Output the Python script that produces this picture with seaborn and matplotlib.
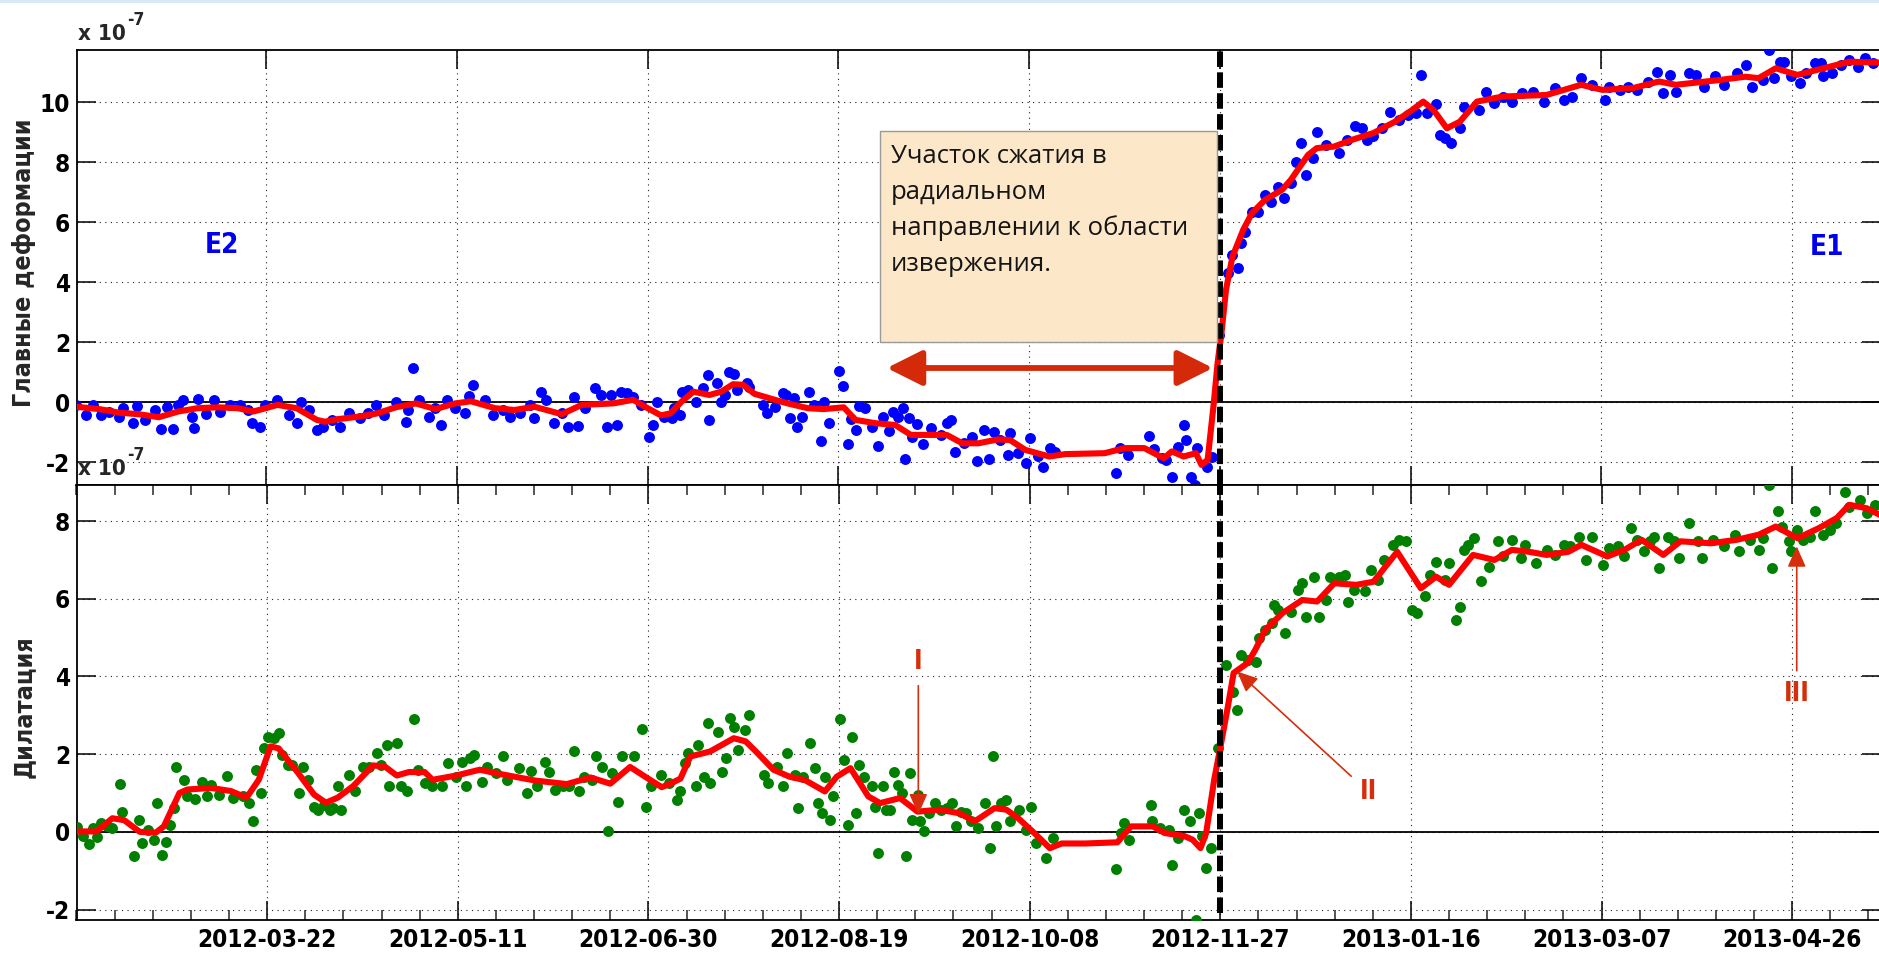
import numpy as np
import pandas as pd
import matplotlib
matplotlib.use("Agg")
import matplotlib.pyplot as plt
import matplotlib.dates as mdates
from matplotlib.patches import FancyArrowPatch, Rectangle
import seaborn as sns

# ---------------------------------------------------------------------------
# Data: days counted from START, values in units of 1e-7
# ---------------------------------------------------------------------------
START = pd.Timestamp("2012-02-01")
ERUPTION = "2012-11-27"
TICK_DATES = ["2012-03-22", "2012-05-11", "2012-06-30", "2012-08-19", "2012-10-08",
              "2012-11-27", "2013-01-16", "2013-03-07", "2013-04-26"]

# principal strain E (blue dots)
E_DAYS = [
    0.1, 2.7, 4.7, 6.8, 8.9, 11.5, 12.5, 15.1, 16.1, 18.2,
    20.8, 22.4, 23.9, 25.5, 27.0, 28.1, 30.6, 31.2, 32.2, 34.3,
    36.3, 37.9, 40.5, 43.1, 45.2, 46.2, 48.3, 49.8, 52.9, 56.0,
    58.1, 59.1, 61.2, 63.3, 64.8, 67.4, 69.5, 71.6, 74.7, 76.8,
    78.8, 80.9, 84.0, 86.6, 87.1, 88.5, 90.2, 92.8, 94.4, 95.9,
    97.5, 99.6, 102.1, 103.2, 104.2, 107.3, 109.4, 112.0, 114.0, 116.6,
    119.2, 120.3, 122.1, 123.4, 125.4, 127.5, 129.1, 130.6, 131.7, 133.7,
    136.3, 137.9, 139.4, 140.5, 142.0, 143.1, 144.6, 146.2, 148.2, 150.3,
    151.3, 152.4, 154.4, 157.0,
    156.3, 158.4, 158.9, 160.5, 162.6, 164.6, 165.7, 166.2, 168.3, 169.3,
    170.3, 171.4, 172.6, 173.4, 176.0, 176.5, 180.2, 181.2, 183.3, 185.4,
    186.4, 187.4, 188.5, 189.2, 190.5, 192.3, 193.6, 195.5, 196.2, 197.5,
    200.2, 201.2, 202.4, 203.3, 204.5, 205.3, 207.1, 208.7, 210.3, 211.8,
    213.3, 214.4, 215.7, 217.0, 217.5, 218.5, 219.2, 220.6, 222.1, 224.2,
    226.8, 228.4, 229.6, 230.6, 233.0, 235.1, 236.4, 238.2, 239.5, 240.8,
    242.3, 244.4, 244.9, 247.0, 249.1, 250.3, 252.2, 253.7, 255.5, 256.8,
    272.7, 273.9, 276.0, 281.5, 282.7, 284.8, 285.8, 287.4, 289.0, 290.5,
    291.0, 292.4, 293.6, 294.1, 296.7, 298.0,
    299.9, 302.1, 303.3, 304.7, 305.5, 306.7, 308.4, 310.1, 311.8, 313.5,
    315.2, 316.9, 318.6, 320.0, 321.4, 322.6, 324.5, 325.4, 327.7, 331.1,
    333.3, 335.4, 337.3, 338.5, 340.2, 342.4, 344.7, 347.0, 349.2, 351.5,
    352.6, 354.3, 356.6, 357.7, 358.9, 360.6, 362.9, 364.0, 368.0, 369.7,
    371.9, 374.2, 376.5, 379.3, 382.2, 385.0, 387.8, 390.1, 392.4, 394.6,
    397.5, 400.9, 402.0, 404.9, 407.1, 409.4, 412.2, 414.5, 416.2, 417.9,
    419.6, 423.0, 424.7, 427.0, 429.8, 432.1, 435.5, 437.8, 439.5, 442.3,
    444.0, 445.2, 446.9, 448.0, 449.7, 452.0, 453.7, 455.9, 457.6, 458.2,
    460.5, 462.7, 465.0, 467.3, 469.0, 471.3,
]
E_VALS = [
    -0.09, -0.42, -0.09, -0.42, -0.31, -0.48, -0.20, -0.70, -0.12, -0.59,
    -0.26, -0.90, -0.17, -0.90, -0.09, 0.08, -0.48, -0.87, 0.11, -0.39,
    0.08, -0.31, -0.09, -0.09, -0.26, -0.70, -0.81, -0.09, 0.08, -0.42,
    -0.70, 0.02, -0.26, -0.92, -0.81, -0.59, -0.81, -0.37, -0.53, -0.37,
    -0.09, -0.42, 0.02, -0.65, -0.26, 1.13, 0.08, -0.48, -0.20, -0.76,
    0.08, -0.20, -0.35, 0.21, 0.58, 0.08, -0.42, -0.26, -0.48, -0.37,
    -0.09, -0.53, 0.35, 0.08, -0.70, -0.37, -0.81, 0.19, -0.79, -0.20,
    0.47, 0.24, -0.81, 0.24, -0.76, 0.35, 0.30, 0.19, -0.09, -1.15,
    -0.76, 0.02, -0.48, -0.20,
    -0.53, -0.42, 0.35, 0.41, 0.02, 0.47, 0.91, -0.59, 0.63, 0.02,
    0.24, 1.02, 0.93, 0.41, 0.63, 0.52, -0.09, -0.37, -0.15, 0.30,
    0.24, -0.53, 0.13, -0.83, -0.48, 0.35, -0.09, -1.28, 0.00, -0.70,
    1.05, 0.54, -1.39, -0.57, -0.92, -0.11, -0.20, -0.81, -1.46, -0.50,
    -0.95, -0.31, -0.48, -0.20, -1.90, -0.53, -1.15, -0.72, -1.39, -0.87,
    -1.09, -0.70, -0.59, -1.65, -1.37, -1.15, -1.95, -0.92, -1.90, -0.98,
    -1.26, -1.76, -1.04, -1.70, -2.03, -1.20, -1.79, -2.15, -1.53, -1.65,
    -2.37, -1.53, -1.76, -1.11, -1.57, -1.87, -1.92, -2.48, -1.48, -0.76,
    -1.26, -2.48, -2.76, -1.53, -2.15, -1.83,
    2.24, 4.30, 4.91, 4.47, 5.30, 5.69, 6.35, 6.35, 6.91, 6.69,
    7.19, 6.80, 7.30, 8.02, 8.63, 7.58, 8.13, 9.02, 8.58, 8.30,
    8.74, 9.21, 9.13, 8.74, 8.86, 9.13, 9.69, 9.41, 9.58, 9.63,
    10.91, 9.63, 9.94, 8.91, 8.80, 8.63, 9.13, 9.85, 9.74, 10.35,
    9.97, 10.19, 10.02, 10.30, 10.35, 10.02, 10.47, 10.08, 10.19, 10.80,
    10.58, 10.08, 10.52, 10.41, 10.52, 10.41, 10.69, 11.02, 10.30, 10.91,
    10.35, 10.97, 10.91, 10.52, 10.86, 10.58, 10.97, 11.24, 10.52, 10.74,
    11.74, 10.80, 11.35, 11.35, 10.86, 10.63, 10.97, 11.30, 11.30, 10.86,
    10.97, 11.24, 11.41, 11.19, 11.47, 11.30,
]

# smoothed principal strain (red curve)
E_SMOOTH_DAYS = [
    0.0, 6.3, 11.5, 16.6, 21.9, 27.0, 32.0, 37.3, 42.6, 46.7,
    53.0, 58.0, 63.3, 65.4, 68.5, 73.7, 78.9, 84.0, 89.2, 94.4,
    99.6, 103.7, 110.0, 115.1, 120.3, 127.5, 132.7, 141.0, 146.2, 149.3,
    153.5, 156.0, 159.0, 162.0, 166.2, 169.3, 172.4, 175.0, 178.0, 182.8,
    187.0, 192.0, 196.2, 201.4, 204.5, 209.7, 214.9, 219.0, 223.2, 228.4,
    232.5, 236.7, 241.8, 245.0, 249.0, 255.3, 259.5, 269.8, 275.0, 280.2,
    285.3, 287.4, 290.5, 293.7, 295.2, 296.8, 298.4, 299.4, 300.5, 301.6,
    303.3, 306.1, 308.4, 311.8, 316.3, 318.6, 323.1, 325.4, 329.9, 334.5,
    340.2, 345.9, 350.4, 353.3, 356.0, 359.5, 362.9, 367.4, 374.2, 385.6,
    394.7, 400.3, 408.3, 415.1, 419.5, 431.0, 437.8, 441.2, 445.7, 451.4,
    458.2, 465.0, 473.0,
]
E_SMOOTH_VALS = [
    -0.15, -0.23, -0.35, -0.40, -0.50, -0.31, -0.20, -0.17, -0.20, -0.31,
    -0.09, -0.20, -0.59, -0.65, -0.57, -0.49, -0.38, -0.17, -0.04, -0.23,
    -0.04, 0.03, -0.20, -0.26, -0.15, -0.40, -0.09, -0.04, 0.08, -0.15,
    -0.44, -0.37, 0.03, 0.35, 0.24, 0.35, 0.60, 0.58, 0.28, 0.10,
    -0.05, -0.20, -0.23, -0.17, -0.59, -0.70, -0.76, -1.09, -1.09, -1.09,
    -1.37, -1.37, -1.24, -1.26, -1.59, -1.81, -1.73, -1.70, -1.53, -1.53,
    -1.87, -1.64, -1.81, -1.70, -2.09, -1.92, -0.04, 1.30, 2.40, 3.74,
    4.85, 5.74, 6.30, 6.74, 7.08, 7.41, 8.24, 8.47, 8.52, 8.74,
    8.97, 9.35, 9.74, 10.02, 9.74, 9.13, 9.35, 10.02, 10.19, 10.24,
    10.58, 10.41, 10.47, 10.69, 10.58, 10.74, 10.85, 10.80, 11.13, 10.91,
    11.13, 11.35, 11.32,
]

# dilatation D (green dots)
D_DAYS = [
    0.1, 1.6, 3.2, 4.2, 5.3, 6.3, 7.9, 9.4, 11.3, 12.0,
    15.1, 16.4, 17.2, 18.7, 20.3, 21.0, 22.4, 23.4, 24.4, 25.5,
    26.2, 28.1, 29.1, 31.2, 33.0, 34.3, 35.3, 37.4, 39.4, 41.0,
    43.6, 45.2, 46.4, 47.2, 48.5, 49.3, 50.3, 51.9, 53.1, 54.0,
    55.5, 56.5, 58.4, 59.3, 60.7, 62.2, 63.3, 64.8, 66.4, 67.4,
    68.5, 69.5, 71.6, 73.1, 75.2, 76.8, 78.8, 79.9, 81.4, 82.0,
    84.0, 85.0, 86.6, 88.5, 89.7, 91.3, 93.3, 95.9, 97.5, 99.6,
    101.1, 102.1, 103.2, 104.2, 106.3, 107.8, 109.9, 111.9, 113.0, 116.1,
    118.2, 119.2, 120.8, 122.8, 123.9, 125.4, 127.5, 129.1, 130.6, 131.7,
    133.2, 135.3, 136.3, 137.9, 139.4, 140.5, 142.0, 143.1, 146.2, 148.2,
    149.3, 150.8, 153.4, 155.5,
    157.4, 158.4, 159.5, 160.5, 162.6, 163.1, 164.6, 165.7, 166.2, 168.3,
    169.3, 170.3, 171.4, 172.4, 173.4, 175.3, 176.5, 180.2, 181.5, 183.8,
    185.4, 186.4, 188.5, 189.3, 190.5, 192.3, 193.6, 194.4, 195.5, 196.2,
    197.6, 198.3, 200.2, 201.4, 202.4, 203.3, 204.5, 205.3, 206.6, 208.7,
    209.5, 210.2, 211.6, 212.3, 213.4, 214.4, 215.4, 216.4, 217.5, 218.5,
    219.2, 220.6, 221.3, 222.4, 223.7, 225.2, 226.8, 228.4, 229.6, 230.6,
    232.0, 233.3, 234.6, 236.4, 238.2, 239.5, 240.4, 241.3, 242.6, 243.7,
    244.9, 247.3, 249.1, 250.3, 251.7, 254.3, 256.1, 272.7, 273.9, 274.8,
    276.0, 281.7, 282.2, 284.3, 286.6, 287.4, 289.0, 290.5, 292.1, 293.6,
    294.4, 295.2, 296.3, 297.6, 299.3,
    301.6, 303.3, 304.4, 305.5, 307.2, 309.5, 310.1, 311.8, 313.5, 314.1,
    315.2, 316.9, 318.6, 320.3, 321.4, 322.6, 324.5, 326.0, 327.7, 328.8,
    331.1, 332.8, 333.4, 335.1, 337.9, 339.6, 341.3, 343.0, 345.3, 347.0,
    348.7, 350.4, 351.5, 353.8, 354.9, 356.6, 358.9, 360.0, 361.7, 362.9,
    364.0, 365.1, 366.5, 368.5, 370.6, 372.8, 374.2, 376.5, 378.8, 379.9,
    382.7, 385.6, 387.8, 390.1, 391.8, 394.1, 395.8, 397.5, 400.3, 402.0,
    404.3, 406.0, 407.7, 409.4, 411.1, 412.8, 413.7, 415.1, 417.4, 419.1,
    420.2, 423.0, 425.3, 426.4, 429.3, 432.1, 435.0, 436.1, 439.0, 441.2,
    442.3, 444.0, 444.8, 446.3, 447.4, 449.1, 449.7, 451.2, 452.8, 454.8,
    456.0, 458.2, 459.9, 461.6, 463.9, 465.0, 467.8, 469.5, 471.8,
]
D_VALS = [
    0.12, -0.12, -0.31, 0.09, -0.14, 0.22, 0.14, 0.09, 1.23, 0.51,
    -0.62, 0.31, -0.29, 0.05, -0.21, 0.74, -0.59, -0.25, 0.18, 0.61,
    1.68, 1.34, 0.91, 0.84, 1.29, 0.91, 1.21, 0.95, 1.44, 0.86,
    0.91, 0.74, 0.27, 1.58, 1.00, 2.15, 2.45, 2.41, 2.54, 1.98,
    1.72, 1.72, 1.00, 1.68, 1.34, 0.65, 0.57, 0.69, 0.57, 0.61,
    1.17, 0.57, 1.47, 1.04, 1.68, 1.68, 2.03, 1.72, 2.24, 1.17,
    2.28, 1.17, 1.04, 2.90, 1.60, 1.25, 1.17, 1.17, 1.77, 1.42,
    1.81, 1.17, 1.90, 1.98, 1.29, 1.68, 1.51, 1.94, 1.34, 1.64,
    0.99, 1.57, 1.17, 1.81, 1.55, 1.08, 1.17, 1.17, 2.07, 1.04,
    1.42, 1.34, 1.94, 1.68, 0.03, 1.51, 0.76, 1.94, 1.94, 2.64,
    0.65, 1.17, 1.47, 1.25,
    0.82, 1.04, 1.77, 2.03, 1.17, 2.24, 1.42, 2.80, 1.25, 2.58,
    1.55, 1.90, 2.93, 2.71, 2.11, 2.62, 3.01, 1.47, 1.25, 1.68,
    1.17, 2.03, 1.47, 0.61, 1.42, 2.28, 1.64, 0.74, 0.48, 1.42,
    0.31, 0.91, 2.91, 1.85, 0.18, 2.45, 0.48, 1.72, 1.42, 1.17,
    0.65, -0.55, 1.17, 0.57, 0.57, 1.55, 1.21, 0.99, -0.62, 1.51,
    0.31, 0.95, 0.27, 0.01, 0.48, 0.74, 0.57, 0.61, 0.74, 0.14,
    0.52, 0.48, 0.27, 0.09, 0.74, -0.42, 1.96, 0.14, 0.74, 0.81,
    0.27, 0.57, 0.05, 0.65, -0.29, -0.68, -0.16, -0.96, -0.04, 0.22,
    -0.21, 0.69, 0.27, 0.09, 0.05, -0.85, -0.16, 0.57, 0.27, -2.27,
    0.48, -0.12, -0.94, -0.42, 2.15,
    4.30, 3.61, 3.14, 4.56, 4.43, 4.38, 4.99, 5.20, 5.37, 5.84,
    5.72, 5.11, 5.67, 6.23, 6.40, 5.54, 6.57, 5.54, 5.97, 6.57,
    6.57, 6.62, 5.93, 6.23, 6.19, 6.75, 6.49, 7.00, 7.39, 7.52,
    7.48, 5.72, 5.63, 6.06, 6.62, 6.96, 6.49, 6.92, 5.46, 5.80,
    7.26, 7.39, 7.56, 6.45, 6.83, 7.48, 7.09, 7.52, 7.05, 7.39,
    6.92, 7.26, 7.13, 7.39, 7.35, 7.60, 7.00, 7.60, 6.87, 7.30,
    7.35, 7.09, 7.82, 7.52, 7.22, 7.48, 7.60, 6.79, 7.60, 7.48,
    7.05, 7.95, 7.48, 7.05, 7.52, 7.35, 7.65, 7.22, 7.52, 7.26,
    7.56, 8.93, 6.79, 8.25, 7.86, 7.48, 7.22, 7.78, 7.52, 7.60,
    8.25, 7.65, 7.78, 7.95, 8.76, 8.37, 8.55, 8.21, 8.42,
]

# smoothed dilatation (red curve)
D_SMOOTH_DAYS = [
    0.0, 5.3, 9.4, 12.5, 16.6, 20.8, 22.9, 27.0, 29.1, 35.3,
    40.5, 44.6, 47.8, 50.9, 53.0, 58.1, 62.3, 65.4, 68.5, 72.6,
    77.8, 80.9, 84.0, 87.2, 91.3, 93.4, 99.6, 105.8, 110.0, 120.3,
    128.6, 134.8, 140.0, 145.2, 149.3, 153.5, 156.0, 158.4, 161.0, 166.2,
    172.4, 175.5, 178.2, 182.8, 187.0, 191.1, 196.3, 199.4, 203.0, 207.7,
    210.8, 216.0, 220.6, 226.3, 231.5, 235.6, 240.8, 243.9, 247.0, 251.2,
    255.3, 258.4, 264.6, 273.0, 276.6, 282.3, 285.4, 290.6, 292.7, 294.8,
    296.3, 298.4, 299.9, 302.0, 303.5, 307.2, 309.2, 311.8, 316.3, 321.5,
    325.4, 329.9, 335.7, 340.2, 346.4, 352.6, 356.6, 360.0, 366.3, 371.9,
    376.5, 381.0, 385.6, 391.3, 394.7, 401.5, 406.0, 410.5, 416.2, 420.7,
    428.7, 435.5, 441.2, 445.7, 451.4, 457.0, 461.7, 465.0, 469.6, 473.0,
]
D_SMOOTH_VALS = [
    0.01, 0.01, 0.35, 0.30, 0.00, -0.02, 0.14, 1.00, 1.09, 1.13,
    1.05, 0.88, 1.34, 2.20, 2.15, 1.52, 0.96, 0.75, 0.88, 1.18,
    1.71, 1.68, 1.45, 1.54, 1.54, 1.34, 1.45, 1.60, 1.51, 1.32,
    1.23, 1.40, 1.24, 1.67, 1.41, 1.15, 1.25, 1.37, 1.94, 2.07,
    2.41, 2.33, 2.07, 1.60, 1.42, 1.33, 1.04, 1.42, 1.64, 0.91,
    0.74, 0.87, 0.52, 0.57, 0.48, 0.27, 0.61, 0.57, 0.35, -0.03,
    -0.42, -0.30, -0.30, -0.27, 0.14, 0.14, -0.03, -0.11, -0.20, -0.42,
    -0.03, 1.34, 2.11, 3.23, 4.09, 4.35, 4.69, 5.20, 5.63, 5.97,
    5.93, 6.40, 6.36, 6.44, 7.21, 6.27, 6.57, 6.36, 7.13, 7.00,
    7.26, 7.21, 7.13, 7.21, 7.39, 7.09, 7.26, 7.52, 7.13, 7.48,
    7.43, 7.52, 7.65, 7.86, 7.56, 7.82, 8.08, 8.42, 8.33, 8.16,
]

# event markers on the dilatation panel
MARK_LABELS = ["I", "II", "III"]
MARK_TIP_DAYS = [220.8, 304.4, 451.2]
MARK_TIP_VALS = [0.45, 4.13, 7.35]
MARK_TEXT_DAYS = [220.8, 338.8, 451.2]
MARK_TEXT_VALS = [4.36, 1.03, 3.55]

BOX_LINES = ["Участок сжатия в", "радиальном", "направлении к области", "извержения."]

assert len(E_DAYS) == len(E_VALS) and len(D_DAYS) == len(D_VALS)
assert len(E_SMOOTH_DAYS) == len(E_SMOOTH_VALS) and len(D_SMOOTH_DAYS) == len(D_SMOOTH_VALS)


def to_dates(days):
    return START + pd.to_timedelta(np.asarray(days, dtype=float), unit="D")


def dnum(day):
    return mdates.date2num(START + pd.Timedelta(days=float(day)))


# ---------------------------------------------------------------------------
# Style
# ---------------------------------------------------------------------------
sns.set_style("white")
plt.rcParams["font.family"] = ["DejaVu Sans"]
plt.rcParams["font.weight"] = "bold"
plt.rcParams["font.stretch"] = "condensed"
plt.rcParams["axes.unicode_minus"] = False

BLUE = "#0000ff"
GREEN = "#007f00"
RED = "#ff0000"
NOTE = "#d62e0c"

W, H = 1879, 956
fig = plt.figure(figsize=(W / 100, H / 100), dpi=100)
fig.patch.set_facecolor("white")


def px_box(x0, y0, x1, y1):
    return [x0 / W, 1 - y1 / H, (x1 - x0) / W, (y1 - y0) / H]


# thin pale-blue strip along the top edge
fig.patches.append(Rectangle((0, 1 - 3 / H), 1, 3 / H, transform=fig.transFigure,
                             facecolor="#d7e8f7", edgecolor="none"))

ax_e = fig.add_axes(px_box(76.5, 50, 1881, 485))
ax_d = fig.add_axes(px_box(76.5, 485, 1881, 920))

e_pts = pd.DataFrame({"date": to_dates(E_DAYS), "value": E_VALS})
e_fit = pd.DataFrame({"date": to_dates(E_SMOOTH_DAYS), "value": E_SMOOTH_VALS})
d_pts = pd.DataFrame({"date": to_dates(D_DAYS), "value": D_VALS})
d_fit = pd.DataFrame({"date": to_dates(D_SMOOTH_DAYS), "value": D_SMOOTH_VALS})

sns.scatterplot(data=e_pts, x="date", y="value", ax=ax_e, color=BLUE, s=62,
                linewidth=0, zorder=3, legend=False)
sns.lineplot(data=e_fit, x="date", y="value", ax=ax_e, color=RED, linewidth=4.4,
             estimator=None, sort=False, zorder=4, legend=False)
sns.scatterplot(data=d_pts, x="date", y="value", ax=ax_d, color=GREEN, s=62,
                linewidth=0, zorder=3, legend=False)
sns.lineplot(data=d_fit, x="date", y="value", ax=ax_d, color=RED, linewidth=4.4,
             estimator=None, sort=False, zorder=4, legend=False)

x_left, x_right = to_dates([0.3, 473.3])
major = pd.to_datetime(TICK_DATES)
minor = pd.date_range(START, periods=48, freq="10D")
erupt = pd.Timestamp(ERUPTION)

for ax in (ax_e, ax_d):
    ax.set_xlim(x_left, x_right)
    ax.set_xticks(major)
    ax.xaxis.set_major_formatter(mdates.DateFormatter("%Y-%m-%d"))
    ax.tick_params(axis="both", which="major", direction="in", length=14, width=1.1,
                   top=True, bottom=True, left=True, right=True, colors="black",
                   labelsize=17.5)
    ax.tick_params(axis="y", pad=4.5)
    ax.tick_params(axis="x", pad=6)
    ax.grid(True, which="major", color="#222222", linestyle=(0, (1, 4)), linewidth=0.8)
    ax.axhline(0, color="black", linewidth=1.3, zorder=2)
    for sp in ax.spines.values():
        sp.set_color("black")
        sp.set_linewidth(1.3)
    ax.set_xlabel("")
    ax.set_facecolor("white")

ax_d.set_xticks(minor, minor=True)
ax_d.tick_params(axis="x", which="minor", direction="in", length=7, width=1.1,
                 top=True, bottom=True)
ax_e.tick_params(labelbottom=False)

ax_e.set_ylim(-2.76, 11.74)
ax_e.set_yticks([-2, 0, 2, 4, 6, 8, 10])
ax_d.set_ylim(-2.27, 8.93)
ax_d.set_yticks([-2, 0, 2, 4, 6, 8])

# eruption onset
ax_e.axvline(erupt, color="black", linewidth=4.3, linestyle=(0, (2.6, 0.9)), zorder=5)
ax_d.axvline(erupt, ymin=0.016, ymax=1, color="black", linewidth=4.3,
             linestyle=(0, (2.6, 0.9)), zorder=5)

# axis labels
ax_e.set_ylabel("Главные деформации", fontsize=18, fontweight="bold")
ax_e.yaxis.set_label_coords(-0.0225, 0.51)
ax_d.set_ylabel("Дилатация", fontsize=18, fontweight="bold")
ax_d.yaxis.set_label_coords(-0.0225, 0.49)

# scale factor labels
for ax in (ax_e, ax_d):
    ax.annotate("x 10", xy=(0, 1), xycoords="axes fraction", xytext=(0.8, 7.2),
                textcoords="offset points", fontsize=16, ha="left", va="baseline",
                annotation_clip=False)
    ax.annotate("-7", xy=(0, 1), xycoords="axes fraction", xytext=(36.5, 18),
                textcoords="offset points", fontsize=12.5, ha="left", va="baseline",
                annotation_clip=False)

# component names
ax_e.text(dnum(38.4), 5.24, "E2", color="#0000ee", fontsize=20, ha="center", va="center")
ax_e.text(dnum(459.1), 5.18, "E1", color="#0000ee", fontsize=20, ha="center", va="center")

# note box
ax_e.add_patch(Rectangle((dnum(210.9), 2.01), dnum(299.2) - dnum(210.9), 7.03,
                         facecolor="#fce7c9", edgecolor="#9a9a9a", linewidth=1.0, zorder=6))
for i, line in enumerate(BOX_LINES):
    ax_e.text(dnum(213.8), 7.97 - 1.2 * i, line, family="Open Sans", weight="normal",
              stretch="normal", fontsize=18.5, color="#151515", ha="left", va="baseline",
              zorder=7)

ax_e.add_patch(FancyArrowPatch((dnum(212.7), 1.14), (dnum(298.2), 1.14),
                               arrowstyle="<|-|>,head_length=1.8,head_width=0.9",
                               mutation_scale=12, linewidth=4.2, color="#d42a0a",
                               shrinkA=0, shrinkB=0, zorder=6))

# event markers
for lab, td, tv, xd, xv in zip(MARK_LABELS, MARK_TIP_DAYS, MARK_TIP_VALS,
                               MARK_TEXT_DAYS, MARK_TEXT_VALS):
    ax_d.annotate(lab, xy=(dnum(td), tv), xytext=(dnum(xd), xv), color=NOTE,
                  fontsize=18.5, ha="center", va="center", zorder=7,
                  arrowprops=dict(arrowstyle="-|>,head_length=0.9,head_width=0.4",
                                  color=NOTE, linewidth=1.2, shrinkA=5, shrinkB=0,
                                  mutation_scale=14))

fig.savefig("out.png", dpi=100, facecolor="white")
